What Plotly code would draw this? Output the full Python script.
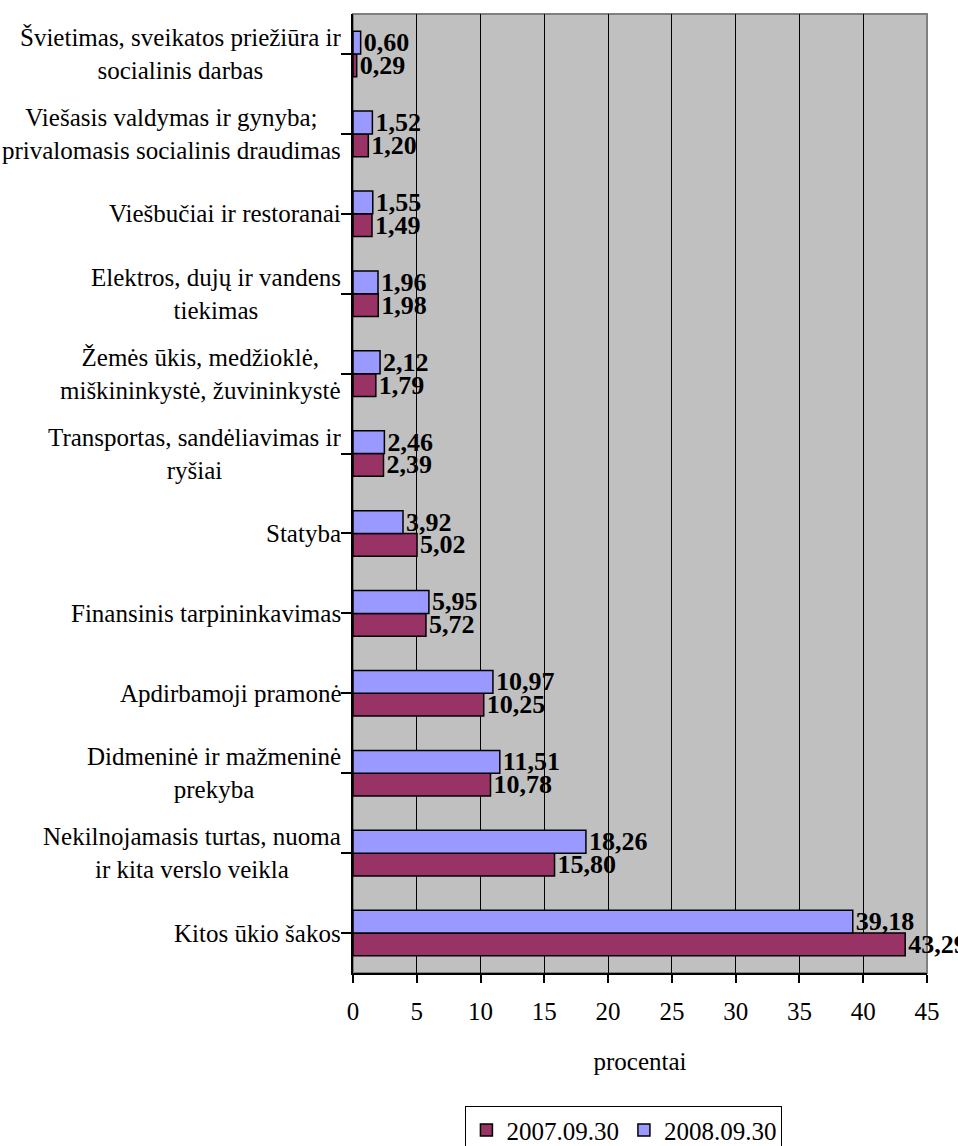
import plotly.graph_objects as go

# Categories listed bottom -> top
categories = [
    "Kitos ūkio šakos",
    "Nekilnojamasis turtas, nuoma<br>ir kita verslo veikla",
    "Didmeninė ir mažmeninė<br>prekyba",
    "Apdirbamoji pramonė",
    "Finansinis tarpininkavimas",
    "Statyba",
    "Transportas, sandėliavimas ir<br>ryšiai",
    "Žemės ūkis, medžioklė,<br>miškininkystė, žuvininkystė",
    "Elektros, dujų ir vandens<br>tiekimas",
    "Viešbučiai ir restoranai",
    "Viešasis valdymas ir gynyba;<br>privalomasis socialinis draudimas",
    "Švietimas, sveikatos priežiūra ir<br>socialinis darbas",
]
values_2007 = [43.29, 15.80, 10.78, 10.25, 5.72, 5.02, 2.39, 1.79, 1.98, 1.49, 1.20, 0.29]
values_2008 = [39.18, 18.26, 11.51, 10.97, 5.95, 3.92, 2.46, 2.12, 1.96, 1.55, 1.52, 0.60]
series_names = ["2007.09.30", "2008.09.30"]
x_ticks = [0, 5, 10, 15, 20, 25, 30, 35, 40, 45]

FONT = "Liberation Serif, Times New Roman, Times, serif"
idx = list(range(len(categories)))


def fmt(v):
    return f"{v:.2f}".replace(".", ",")


fig = go.Figure()
for name, vals, color in [
    (series_names[0], values_2007, "#993366"),
    (series_names[1], values_2008, "#9999FF"),
]:
    fig.add_trace(go.Bar(
        y=idx, x=vals, name=name, orientation="h",
        marker=dict(color=color, line=dict(color="black", width=1.5)),
        text=[fmt(v) for v in vals],
        textposition="outside",
        constraintext="none",
        cliponaxis=False,
        textfont=dict(family=FONT, size=26, color="black", weight="bold"),
    ))

for i, c in enumerate(categories):
    fig.add_annotation(
        x=0, xref="paper", y=i, yref="y", xanchor="right", yanchor="middle",
        xshift=-10, text=c, align="center", showarrow=False,
        font=dict(family=FONT, size=25, color="black"),
    )

fig.add_shape(type="rect", xref="paper", yref="paper", x0=0, x1=1, y0=0, y1=1,
              line=dict(color="#808080", width=2), layer="below")

fig.update_layout(
    width=958, height=1146,
    margin=dict(l=353, r=31, t=14, b=173, autoexpand=False),
    paper_bgcolor="white", plot_bgcolor="#C0C0C0",
    barmode="group", bargap=0.43, bargroupgap=0,
    font=dict(family=FONT, size=25, color="black"),
    showlegend=True,
    legend=dict(
        orientation="h", x=0.472, xanchor="center", y=-0.139, yanchor="top",
        bordercolor="black", borderwidth=1, bgcolor="white",
        font=dict(family=FONT, size=25), traceorder="normal",
        tracegroupgap=0,
    ),
    xaxis=dict(
        range=[0, 45], tickvals=x_ticks, ticktext=[str(t) for t in x_ticks],
        showgrid=True, gridcolor="black", gridwidth=1,
        showline=True, linecolor="black", linewidth=1.5,
        ticks="outside", ticklen=8, tickcolor="black", tickwidth=1.5,
        ticklabelstandoff=7, zeroline=False, automargin=False,
        title=dict(text="procentai", standoff=29, font=dict(family=FONT, size=25)),
        tickfont=dict(family=FONT, size=25),
    ),
    yaxis=dict(
        range=[-0.5, len(categories) - 0.5], tickvals=idx, showticklabels=False,
        showgrid=False, zeroline=False, automargin=False,
        showline=True, linecolor="black", linewidth=1.5,
        ticks="outside", ticklen=10, tickcolor="black", tickwidth=1.5,
        tickson="boundaries", type="linear",
    ),
)

fig.write_html("out.html")
